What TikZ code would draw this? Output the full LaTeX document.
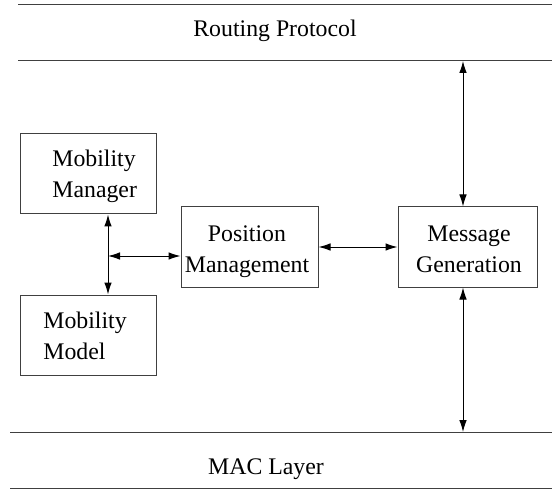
\documentclass[tikz,border=0pt]{standalone}
\usepackage{fontspec}
\setmainfont{Liberation Serif}
\usetikzlibrary{arrows.meta,calc}
\begin{document}
\begin{tikzpicture}[x=0.5pt,y=-0.5pt,
  every node/.style={font=\fontsize{11.9}{15.5}\selectfont, inner sep=0pt},
  layer/.style={draw=black!75, line width=0.5pt},
  box/.style={draw=black!75, line width=0.5pt, minimum width=68pt, minimum height=40pt},
  txt/.style={align=left},
  ctxt/.style={align=center},
  arr/.style={draw=black, line width=0.5pt, {Latex[length=6pt,width=3.8pt]}-{Latex[length=6pt,width=3.8pt]}}]
\useasboundingbox (0,0) rectangle (552,492);
% layer lines
\coordinate (l1a) at (18,5);   \coordinate (l1b) at (552,5);
\coordinate (l2a) at (18,61);  \coordinate (l2b) at (552,61);
\coordinate (l3a) at (10,432); \coordinate (l3b) at (552,432);
\coordinate (l4a) at (10,488); \coordinate (l4b) at (552,488);
\draw[layer] (l1a) -- (l1b);
\draw[layer] (l2a) -- (l2b);
\draw[layer] (l3a) -- (l3b);
\draw[layer] (l4a) -- (l4b);
\node[anchor=base] (rp) at (275,37) {Routing Protocol};
\node[anchor=base] (mac) at (266,474) {MAC Layer};
% boxes
\node[box] (mm) at (88,174) {};
\node[box] (mmod) at (88,335) {};
\node[box, minimum width=68.5pt] (pm) at (249.5,247) {};
\node[box, minimum width=69.5pt] (mg) at (467.5,247) {};
% texts
\node[txt, anchor=base west] (mmt) at (52,198) {Mobility\\Manager};
\node[txt, anchor=base west] (mmodt) at (43,359) {Mobility\\Model};
\node[ctxt, anchor=base] (pmt) at (247,272) {Position\\Management};
\node[ctxt, anchor=base] (mgt) at (469,272) {Message\\Generation};
% connectors
\coordinate (j) at (108,256);
\coordinate (k) at (463,61);
\coordinate (kb) at (463,432);
\draw[arr] (j |- mm.south) -- (j |- mmod.north);
\draw[arr] (j) -- (pm.west |- j);
\draw[arr] (pm.east) -- (mg.west);
\draw[arr] (k) -- (k |- mg.north);
\draw[arr] (kb |- mg.south) -- (kb);
\end{tikzpicture}
\end{document}
